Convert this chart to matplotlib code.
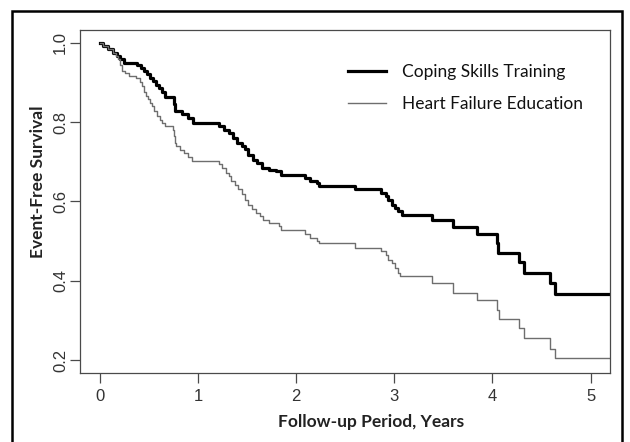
import matplotlib
matplotlib.use("Agg")
import matplotlib.pyplot as plt
from matplotlib.patches import Rectangle

# Kaplan-Meier step points (time in years, event-free survival after the step)
cst_time = [0.0, 0.03, 0.08, 0.13, 0.17, 0.20, 0.24, 0.38, 0.42, 0.45, 0.48,
            0.51, 0.54, 0.57, 0.60, 0.63, 0.66, 0.75, 0.76, 0.84, 0.90, 0.95,
            1.21, 1.26, 1.31, 1.36, 1.40, 1.45, 1.48, 1.51, 1.56, 1.60, 1.65,
            1.72, 1.79, 1.84, 2.09, 2.14, 2.21, 2.23, 2.60, 2.86, 2.91, 2.94,
            2.98, 3.01, 3.04, 3.08, 3.38, 3.60, 3.84, 4.05, 4.06, 4.27, 4.32,
            4.59, 4.64, 5.40]
cst_surv = [1.0, 0.992, 0.983, 0.975, 0.966, 0.958, 0.950, 0.945, 0.937, 0.928,
            0.920, 0.911, 0.903, 0.894, 0.886, 0.877, 0.862, 0.845, 0.828,
            0.820, 0.810, 0.798, 0.790, 0.781, 0.773, 0.760, 0.747, 0.739,
            0.731, 0.718, 0.705, 0.697, 0.684, 0.680, 0.676, 0.667, 0.659,
            0.651, 0.646, 0.640, 0.630, 0.621, 0.613, 0.604, 0.592, 0.583,
            0.575, 0.566, 0.552, 0.535, 0.517, 0.495, 0.470, 0.448, 0.419,
            0.394, 0.366, 0.366]

hfe_time = [0.0, 0.03, 0.08, 0.13, 0.16, 0.18, 0.20, 0.22, 0.25, 0.30, 0.37,
            0.41, 0.43, 0.45, 0.47, 0.49, 0.51, 0.53, 0.55, 0.58, 0.61, 0.63,
            0.66, 0.74, 0.75, 0.76, 0.77, 0.82, 0.86, 0.90, 0.94,
            1.21, 1.24, 1.28, 1.31, 1.34, 1.38, 1.41, 1.45, 1.48, 1.51, 1.55,
            1.59, 1.63, 1.66, 1.72, 1.82, 1.84, 2.09, 2.14, 2.21, 2.23, 2.60,
            2.86, 2.91, 2.94, 2.98, 3.01, 3.04, 3.06, 3.38, 3.60, 3.84, 4.05,
            4.07, 4.27, 4.32, 4.59, 4.64, 5.40]
hfe_surv = [1.0, 0.992, 0.983, 0.975, 0.966, 0.958, 0.945, 0.930, 0.924, 0.916,
            0.910, 0.900, 0.890, 0.875, 0.865, 0.857, 0.848, 0.840, 0.827,
            0.815, 0.806, 0.798, 0.790, 0.781, 0.765, 0.748, 0.739, 0.730,
            0.722, 0.713, 0.703, 0.693, 0.684, 0.672, 0.663, 0.652, 0.642,
            0.630, 0.618, 0.604, 0.592, 0.580, 0.571, 0.562, 0.552, 0.545,
            0.537, 0.529, 0.518, 0.508, 0.500, 0.495, 0.482, 0.474, 0.465,
            0.453, 0.444, 0.432, 0.420, 0.411, 0.394, 0.370, 0.352, 0.327,
            0.303, 0.280, 0.255, 0.227, 0.205, 0.205]

x_ticks = [0, 1, 2, 3, 4, 5]
y_ticks = [0.2, 0.4, 0.6, 0.8, 1.0]
series_labels = ["Coping Skills Training", "Heart Failure Education"]

axis_gray = "#4a4a4a"

fig = plt.figure(figsize=(6.3, 4.42), dpi=100)
ax = fig.add_axes([0.1276, 0.1568, 0.841, 0.7752])

ax.plot(cst_time, cst_surv, drawstyle="steps-post", color="black",
        linewidth=2.3, label=series_labels[0])
ax.plot(hfe_time, hfe_surv, drawstyle="steps-post", color="#6e6e6e",
        linewidth=1.0, label=series_labels[1])

ax.set_xlim(-0.2, 5.2)
ax.set_ylim(0.168, 1.032)
ax.set_xticks(x_ticks)
ax.set_yticks(y_ticks)
ax.set_xticklabels([str(t) for t in x_ticks])
ax.set_yticklabels(["%.1f" % t for t in y_ticks], rotation=90, va="center")

for s in ax.spines.values():
    s.set_color(axis_gray)
    s.set_linewidth(0.9)
ax.tick_params(direction="out", length=7, width=0.9, color=axis_gray,
               labelcolor="#333333", labelsize=12)
ax.tick_params(axis="x", pad=5)
ax.tick_params(axis="y", pad=2)
for lab in ax.get_xticklabels() + ax.get_yticklabels():
    lab.set_family("Liberation Sans")

ax.set_xlabel("Follow-up Period, Years", family="Lato", fontweight="bold",
              fontsize=12.5, color="#222222")
ax.set_ylabel("Event-Free Survival", family="Lato", fontweight="bold",
              fontsize=12.5, color="#222222")
ax.xaxis.set_label_coords(0.549, -0.12)
ax.yaxis.set_label_coords(-0.065, 0.557)

leg = ax.legend(loc="upper left", bbox_to_anchor=(0.505, 0.9), frameon=False,
                prop={"family": "Lato", "size": 12.5}, handlelength=2.2,
                handletextpad=0.9, labelspacing=0.92, borderaxespad=0,
                borderpad=0)
for t in leg.get_texts():
    t.set_color("#111111")

# outer frame around the whole figure
fig.patches.append(Rectangle((12 / 630, -0.05), 610 / 630, 1.05 - 11 / 442,
                             transform=fig.transFigure, fill=False,
                             edgecolor="black", linewidth=1.8))

fig.savefig("out.png", dpi=100)
